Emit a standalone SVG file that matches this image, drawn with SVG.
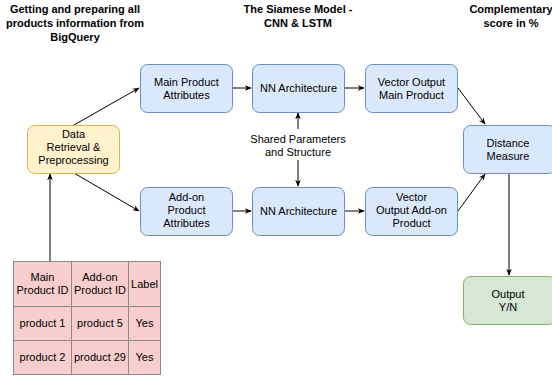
<svg xmlns="http://www.w3.org/2000/svg" width="552" height="377" viewBox="0 0 552 377">
<style>
text{font-family:"Liberation Sans",Arial,sans-serif;font-size:11px;fill:#000;text-anchor:middle}
.t{font-weight:bold}
.b{fill:#dae8fc;stroke:#6c8ebf}
.y{fill:#fff2cc;stroke:#d6b656}
.g{fill:#d5e8d4;stroke:#82b366}
.c{fill:none;stroke:#000;stroke-width:1}
.cell{fill:#f8cecc;stroke:#8a8a8a}
</style>
<defs>
<marker id="a" viewBox="0 0 10 10" refX="9" refY="5" markerWidth="7" markerHeight="7" orient="auto-start-reverse" markerUnits="userSpaceOnUse"><path d="M0,1 L10,5 L0,9 L3,5 Z" fill="#000"/></marker>
</defs>
<rect width="552" height="377" fill="#fff"/>
<g id="titles" class="t">
<text class="t" x="75" y="13">Getting and preparing all</text>
<text class="t" x="75" y="27">products information from</text>
<text class="t" x="75" y="41">BigQuery</text>
<text class="t" x="298" y="13">The Siamese Model -</text>
<text class="t" x="298" y="27">CNN &amp; LSTM</text>
<text class="t" x="511" y="13">Complementary</text>
<text class="t" x="511" y="27">score in %</text>
</g>
<g id="connectors">
<line class="c" x1="50" y1="261" x2="50" y2="174" marker-end="url(#a)"/>
<line class="c" x1="74" y1="125" x2="139" y2="88" marker-end="url(#a)"/>
<line class="c" x1="74" y1="173" x2="139" y2="211" marker-end="url(#a)"/>
<line class="c" x1="232" y1="88" x2="251" y2="88" marker-end="url(#a)"/>
<line class="c" x1="344" y1="88" x2="364" y2="88" marker-end="url(#a)"/>
<line class="c" x1="232" y1="211" x2="251" y2="211" marker-end="url(#a)"/>
<line class="c" x1="344" y1="211" x2="364" y2="211" marker-end="url(#a)"/>
<line class="c" x1="458" y1="88" x2="485" y2="124" marker-end="url(#a)"/>
<line class="c" x1="458" y1="211" x2="485" y2="174" marker-end="url(#a)"/>
<line class="c" x1="509" y1="173" x2="509" y2="275" stroke="#555" marker-end="url(#a)"/>
<line class="c" x1="298" y1="129" x2="298" y2="113" marker-end="url(#a)"/>
<line class="c" x1="298" y1="160" x2="298" y2="186" marker-end="url(#a)"/>
<text x="298" y="143">Shared Parameters</text>
<text x="298" y="156">and Structure</text>
</g>
<g id="data">
<rect class="y" x="27.5" y="125.5" width="92" height="48" rx="7"/>
<text x="73.5" y="138">Data</text>
<text x="73.5" y="151">Retrieval &amp;</text>
<text x="73.5" y="164">Preprocessing</text>
</g>
<g id="mainAttr">
<rect class="b" x="140.5" y="64.5" width="92" height="48" rx="7"/>
<text x="186.5" y="86">Main Product</text>
<text x="186.5" y="99">Attributes</text>
</g>
<g id="nnTop">
<rect class="b" x="252.5" y="64.5" width="92" height="48" rx="7"/>
<text x="298.5" y="92">NN Architecture</text>
</g>
<g id="vecMain">
<rect class="b" x="365.5" y="64.5" width="92" height="48" rx="7"/>
<text x="411.5" y="86">Vector Output</text>
<text x="411.5" y="99">Main Product</text>
</g>
<g id="addonAttr">
<rect class="b" x="140.5" y="187.5" width="92" height="48" rx="7"/>
<text x="186.5" y="201">Add-on</text>
<text x="186.5" y="214">Product</text>
<text x="186.5" y="227">Attributes</text>
</g>
<g id="nnBottom">
<rect class="b" x="252.5" y="187.5" width="92" height="48" rx="7"/>
<text x="298.5" y="215">NN Architecture</text>
</g>
<g id="vecAddon">
<rect class="b" x="365.5" y="187.5" width="92" height="48" rx="7"/>
<text x="411.5" y="201">Vector</text>
<text x="411.5" y="214">Output Add-on</text>
<text x="411.5" y="227">Product</text>
</g>
<g id="distance">
<rect class="b" x="463.5" y="125.5" width="92" height="48" rx="7"/>
<text x="508" y="147">Distance</text>
<text x="508" y="160">Measure</text>
</g>
<g id="output">
<rect class="g" x="463.5" y="276.5" width="92" height="48" rx="7"/>
<text x="508" y="298">Output</text>
<text x="508" y="311">Y/N</text>
</g>
<g id="table">
<rect class="cell" x="13.5" y="261.5" width="58" height="45"/>
<rect class="cell" x="71.5" y="261.5" width="57" height="45"/>
<rect class="cell" x="128.5" y="261.5" width="32" height="45"/>
<rect class="cell" x="13.5" y="306.5" width="58" height="34"/>
<rect class="cell" x="71.5" y="306.5" width="57" height="34"/>
<rect class="cell" x="128.5" y="306.5" width="32" height="34"/>
<rect class="cell" x="13.5" y="340.5" width="58" height="34"/>
<rect class="cell" x="71.5" y="340.5" width="57" height="34"/>
<rect class="cell" x="128.5" y="340.5" width="32" height="34"/>
<text x="42.5" y="281">Main</text>
<text x="42.5" y="294">Product ID</text>
<text x="100" y="281">Add-on</text>
<text x="100" y="294">Product ID</text>
<text x="144.5" y="288">Label</text>
<text x="42.5" y="327">product 1</text>
<text x="100" y="327">product 5</text>
<text x="144.5" y="327">Yes</text>
<text x="42.5" y="361">product 2</text>
<text x="100" y="361">product 29</text>
<text x="144.5" y="361">Yes</text>
</g>
</svg>
